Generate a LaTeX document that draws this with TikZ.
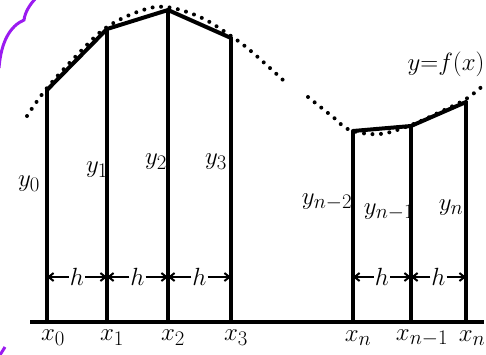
\documentclass[tikz,border=0pt]{standalone}
\usetikzlibrary{arrows.meta, positioning, calc}
\definecolor{lapizMorado}{HTML}{9B1BF0}

\begin{document}
\begin{tikzpicture}[x=1pt, y=-1pt, font=\fontsize{30}{34}\selectfont,
  barra/.style={line width=3.6pt},
  techo/.style={line width=4pt, line join=round, line cap=round},
  puntos/.style={line width=4pt, dash pattern=on 0pt off 8.5pt, line cap=round},
  paso/.style={-{Straight Barb[length=5pt, width=8pt]}, line width=2pt}]
  \useasboundingbox (0,0) rectangle (486,354);
  % trazo morado del borde
  \draw[lapizMorado, line width=3pt] (-1,68) .. controls (1,42) and (10,26) .. (24,20)
        .. controls (25,12) and (30,4) .. (37,-3);
  \draw[lapizMorado, line width=3pt] (0,355) -- (5,347);
  % eje
  \coordinate (ejeA) at (30,322);
  \coordinate (ejeB) at (484,322);
  \draw[line width=4.5pt] (ejeA) -- (ejeB);
  % ordenadas
  \foreach \n/\px/\py in {0/47/90, 1/107/29, 2/168/10, 3/231/38,
                          4/353/131, 5/411/126, 6/466/102} {
    \coordinate (b\n) at (\px,322);
    \coordinate (t\n) at (\px,\py);
    \coordinate (m\n) at (\px,277);
    \draw[barra] (b\n) -- (t\n);
  }
  % trapecios arriba
  \draw[techo] (t0) -- (t1) -- (t2) -- (t3);
  \draw[techo] (t4) -- (t5) -- (t6);
  % curva punteada
  \draw[puntos] plot[smooth, tension=0.6] coordinates {(27,116) (47,88) (80,52)
        (107,27) (140,11) (166,7) (200,17) (231,36) (252,52) (283,80)};
  \draw[puntos] plot[smooth, tension=0.6] coordinates {(308,97) (333,117)
        (350,130) (380,134) (411,125) (440,112) (466,99) (486,83)};
  \node (fx) at (446,64) {$y{=}f(x)$};
  % pasos h
  \foreach \a/\b in {0/1, 1/2, 2/3, 4/5, 5/6} {
    \node[inner sep=1pt] (h\a) at ($(m\a)!0.5!(m\b)$) {$h$};
    \draw[paso] (h\a) -- (m\a);
    \draw[paso] (h\a) -- (m\b);
  }
  % etiquetas y
  \node (y0) at (29,184) {$y_0$};
  \node (y1) at (97,170) {$y_1$};
  \node (y2) at (156,162) {$y_2$};
  \node (y3) at (216,162) {$y_3$};
  \node (y4) at (327,202) {$y_{n-2}$};
  \node (y5) at (389,212) {$y_{n-1}$};
  \node (y6) at (451,208) {$y_n$};
  % etiquetas x
  \node (x0) at (53,338) {$x_0$};
  \node (x1) at (112,338) {$x_1$};
  \node (x2) at (173,338) {$x_2$};
  \node (x3) at (236,338) {$x_3$};
  \node (x4) at (358,338) {$x_n$};
  \node (x5) at (422,338) {$x_{n-1}$};
  \node (x6) at (472,338) {$x_n$};
\end{tikzpicture}
\end{document}
